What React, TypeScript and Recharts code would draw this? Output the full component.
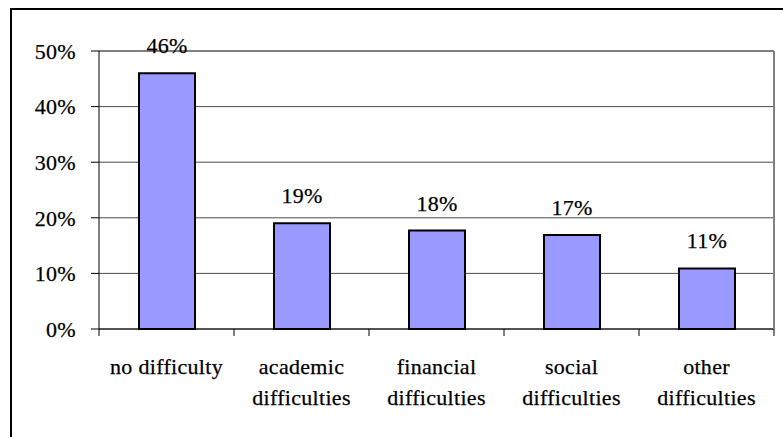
import React from 'react';
import { BarChart, Bar, XAxis, YAxis, CartesianGrid, ReferenceLine, LabelList } from 'recharts';

const categories = [
  'no difficulty',
  'academic\ndifficulties',
  'financial\ndifficulties',
  'social\ndifficulties',
  'other\ndifficulties',
];
const shares = [46, 19, 17.7, 16.9, 10.9];
const yTicks = [0, 10, 20, 30, 40, 50];

const data = categories.map((name, i) => ({ name, value: shares[i] }));

const FONT = "'Liberation Serif', 'Times New Roman', serif";
const textStyle = {
  fontFamily: FONT,
  fontSize: 22,
  letterSpacing: 0.3,
  fill: '#000',
  stroke: '#000',
  strokeWidth: 0.25,
};

// category labels, plus tick marks drawn between categories (Excel style)
const CategoryTick = (props: any) => {
  const { x, y, payload, index, visibleTicksCount } = props;
  const half = payload && payload.offset ? payload.offset : 67.5;
  const lines = String(payload.value).split('\n');
  const last = index === (visibleTicksCount ?? categories.length) - 1;
  return (
    <g>
      <line x1={x - half} y1={y} x2={x - half} y2={y + 7} stroke="#000" strokeWidth={1} />
      {last && <line x1={x + half} y1={y} x2={x + half} y2={y + 7} stroke="#000" strokeWidth={1} />}
      <text x={x} y={y + 45} textAnchor="middle" {...textStyle}>
        {lines.map((ln, i) => (
          <tspan key={i} x={x} dy={i === 0 ? 0 : 31}>
            {ln}
          </tspan>
        ))}
      </text>
    </g>
  );
};

const App: React.FC = () => {
  return (
    <div
      style={{
        position: 'fixed',
        top: 0,
        left: 0,
        width: 783,
        height: 437,
        overflow: 'hidden',
        background: '#fff',
      }}
    >
      <div
        style={{
          position: 'absolute',
          left: 10,
          top: 8,
          width: 900,
          height: 600,
          border: '2px solid #000',
        }}
      />
      <div style={{ position: 'absolute', left: 0, top: 0 }}>
        <BarChart
          width={783}
          height={437}
          data={data}
          margin={{ top: 51, right: 0, left: 0, bottom: 0 }}
        >
          <CartesianGrid vertical={false} stroke="#4a4a4a" strokeWidth={1} />
          <XAxis
            dataKey="name"
            height={108}
            interval={0}
            tickSize={0}
            tickMargin={0}
            tickLine={false}
            axisLine={{ stroke: '#000', strokeWidth: 1 }}
            tick={<CategoryTick />}
          />
          <YAxis
            width={99}
            domain={[0, 50]}
            ticks={yTicks}
            interval={0}
            tickSize={8}
            tickMargin={15}
            tickLine={{ stroke: '#000' }}
            axisLine={{ stroke: '#000', strokeWidth: 1 }}
            tickFormatter={(v: number) => `${v}%`}
            tick={textStyle}
          />
          <YAxis
            yAxisId="right"
            orientation="right"
            width={9}
            domain={[0, 50]}
            tick={false}
            tickLine={false}
            axisLine={{ stroke: '#808080', strokeWidth: 2 }}
          />
          <ReferenceLine y={50} stroke="#808080" strokeWidth={2} />
          <Bar
            dataKey="value"
            fill="#9999FF"
            stroke="#000"
            strokeWidth={2}
            barSize={56}
            isAnimationActive={false}
          >
            <LabelList
              dataKey="value"
              position="top"
              offset={20}
              formatter={(v: number) => `${Math.round(v)}%`}
              {...textStyle}
            />
          </Bar>
        </BarChart>
      </div>
    </div>
  );
};

export default App;
